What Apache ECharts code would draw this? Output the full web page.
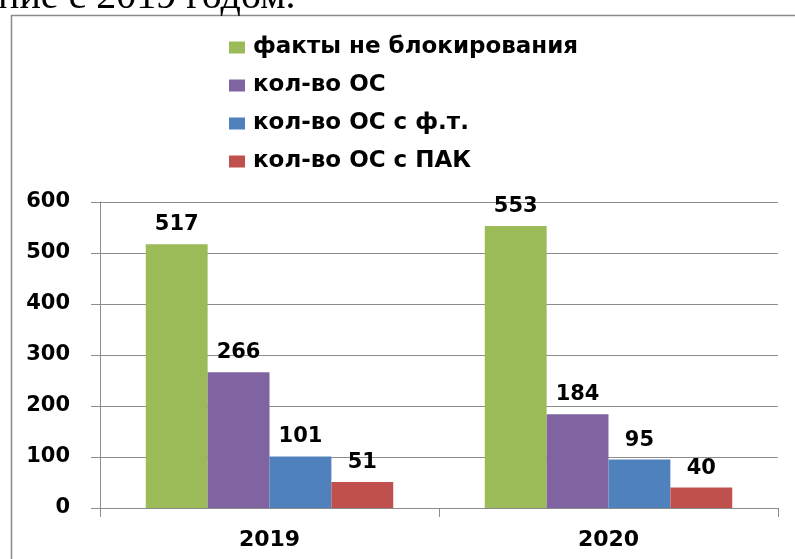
<!DOCTYPE html>
<html>
<head>
<meta charset="utf-8">
<script src="https://cdn.jsdelivr.net/npm/echarts@6/dist/echarts.min.js"></script>
<style>html,body{margin:0;padding:0;background:#fff}#c{width:795px;height:559px}</style>
</head>
<body>
<div id="c"></div>
<script>
const categories = ['2019', '2020'];
const seriesNames = ['факты не блокирования', 'кол-во ОС', 'кол-во ОС с ф.т.', 'кол-во ОС с ПАК'];
const factsNotBlocked = [517, 553];
const osCount = [266, 184];
const osWithFT = [101, 95];
const osWithPAK = [51, 40];
const yTicks = [0, 100, 200, 300, 400, 500, 600];
const colors = ['#9BBB59', '#8064A2', '#4F81BD', '#C0504D'];
const headerText = 'ние с 2019 годом.';

const FONT = 'DejaVu Sans';
const chart = echarts.init(document.getElementById('c'));
const values = [factsNotBlocked, osCount, osWithFT, osWithPAK];
chart.setOption({
  animation: false,
  color: colors,
  graphic: [
    { type: 'rect', left: 9, top: 13, shape: { width: 800, height: 600 }, style: { fill: 'none', stroke: '#8a8a8a', lineWidth: 1.5 }, z: -1 },
    { type: 'text', left: -2, top: -23, style: { text: headerText, font: '40px "Liberation Serif"', fill: '#000' } }
  ],
  legend: {
    orient: 'vertical', left: 229, top: 36, padding: 0, itemWidth: 16, itemHeight: 12, itemGap: 15,
    icon: 'rect',
    textStyle: { fontFamily: FONT, fontWeight: 'bold', fontSize: 23, color: '#000', padding: [0, 0, 0, 3] },
    data: seriesNames
  },
  grid: { left: 100, right: 17, top: 202, bottom: 51 },
  xAxis: {
    type: 'category', data: categories,
    axisLine: { lineStyle: { color: '#8c8c8c', width: 1 } },
    axisTick: { show: true, length: 9, lineStyle: { color: '#8c8c8c' } },
    axisLabel: { margin: 21, fontFamily: FONT, fontWeight: 'bold', fontSize: 22, color: '#000' }
  },
  yAxis: {
    type: 'value', min: yTicks[0], max: yTicks[yTicks.length - 1], interval: 100,
    axisLine: { show: true, lineStyle: { color: '#8c8c8c', width: 1 } },
    axisTick: { show: true, length: 9, lineStyle: { color: '#8c8c8c' } },
    splitLine: { lineStyle: { color: '#8c8c8c', width: 1 } },
    axisLabel: { margin: 30, fontFamily: FONT, fontWeight: 'bold', fontSize: 21, color: '#000' }
  },
  series: seriesNames.map((n, i) => ({
    name: n, type: 'bar', data: values[i],
    barGap: '0%', barCategoryGap: '27%',
    label: { show: true, position: 'top', distance: 9, fontFamily: FONT, fontWeight: 'bold', fontSize: 21, color: '#000' }
  }))
});
</script>
</body>
</html>
